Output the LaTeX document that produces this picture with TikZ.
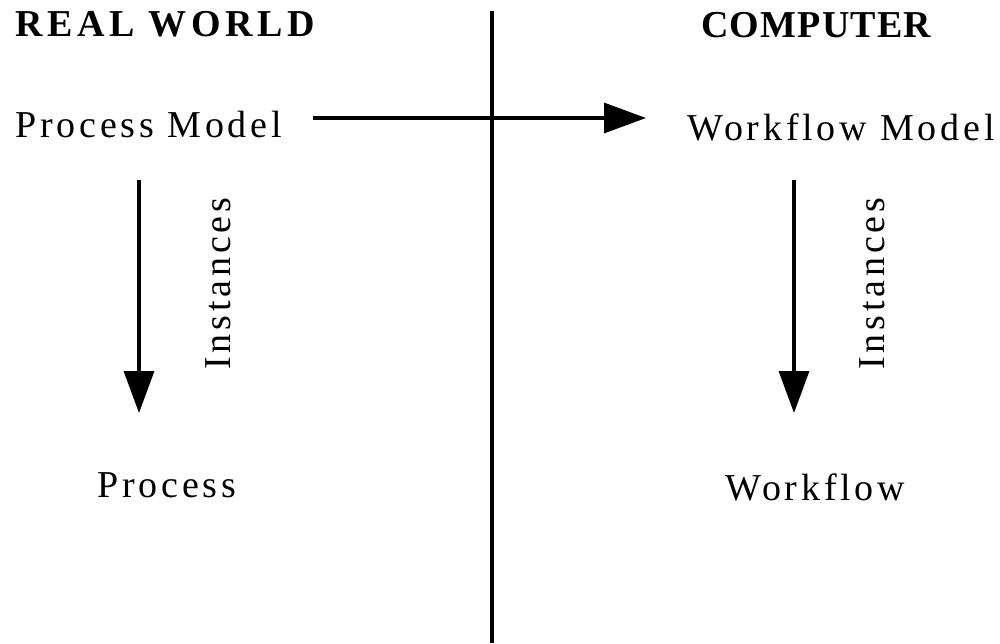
\documentclass[tikz,border=0pt]{standalone}
\usepackage{fontspec}
\setmainfont{Liberation Serif}[LetterSpace=10]
\usetikzlibrary{arrows.meta,positioning}

\begin{document}
\begin{tikzpicture}[x=0.5pt,y=-0.5pt,
    label/.style={inner sep=0pt,anchor=base west,font=\fontsize{19}{21}\selectfont},
    heading/.style={label,font=\fontsize{19}{21}\selectfont\bfseries},
    arrow/.style={line width=1.6pt,-{Triangle[length=21pt,width=15pt]}}]
  \useasboundingbox (0,0) rectangle (1000,643);

  % Headings
  \node[heading] (real) at (15,36) {\addfontfeatures{LetterSpace=12}REAL WORLD};
  \node[heading] (comp) at (701,37) {\addfontfeatures{LetterSpace=3}COMPUTER};

  % Divider
  \coordinate (top) at (492,11);
  \coordinate (bot) at (492,643);
  \draw[line width=1.6pt] (top) -- (bot);

  % Models and instances
  \node[label] (pm) at (15,137) {Process Model};
  \node[label] (wm) at (687,140) {Workflow Model};
  \node[label] (p) at (97,497) {Process};
  \node[label] (w) at (725,500) {Workflow};

  % Arrow ends
  \coordinate (pmR) at (313,118);
  \coordinate (wmL) at (646,118);
  \coordinate (pmB) at (139,180);
  \coordinate (pT) at (139,413);
  \coordinate (wmB) at (794,180);
  \coordinate (wT) at (794,413);

  % Transitions
  \draw[arrow] (pmR) -- (wmL);
  \draw[arrow] (pmB) -- (pT);
  \draw[arrow] (wmB) -- (wT);
  \node[label,rotate=90] (inst1) at (230,370) {Instances};
  \node[label,rotate=90] (inst2) at (884,370) {Instances};
\end{tikzpicture}
\end{document}
